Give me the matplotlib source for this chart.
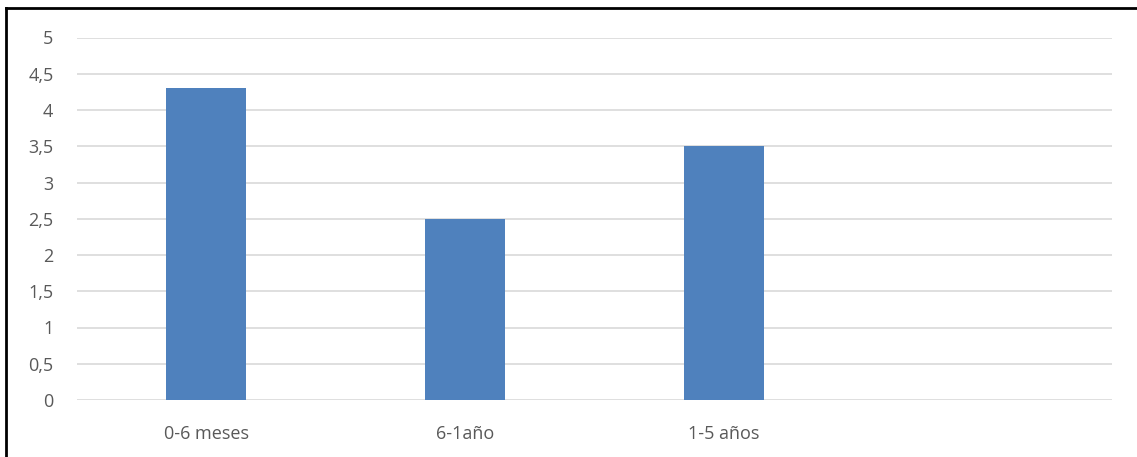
import matplotlib
matplotlib.use("Agg")
import matplotlib.pyplot as plt
from matplotlib.lines import Line2D

categories = ["0-6 meses", "6-1año", "1-5 años", ""]
values = [4.3, 2.5, 3.5, None]
y_ticks = [0, 0.5, 1, 1.5, 2, 2.5, 3, 3.5, 4, 4.5, 5]
y_labels = ["0", "0,5", "1", "1,5", "2", "2,5", "3", "3,5", "4", "4,5", "5"]


def main():
    plt.rcParams['font.family'] = ['Open Sans', 'DejaVu Sans']
    fig = plt.figure(figsize=(11.37, 4.57), dpi=100)
    ax = fig.add_axes([77 / 1137, 1 - 400 / 457, 1035 / 1137, 362.5 / 457])

    x = list(range(len(categories)))
    heights = [v if v is not None else 0 for v in values]
    ax.bar(x, heights, width=0.31, color="#4f81bd", zorder=3)

    ax.set_xlim(-0.5, len(categories) - 0.5)
    ax.set_ylim(0, 5)
    ax.set_yticks(y_ticks)
    ax.set_yticklabels(y_labels)
    ax.set_xticks(x)
    ax.set_xticklabels(categories)
    ax.grid(axis="y", color="#d9d9d9", linewidth=1.2, zorder=0)
    for s in ax.spines.values():
        s.set_visible(False)
    ax.tick_params(axis="both", length=0, colors="#595959", labelsize=13)
    ax.tick_params(axis="y", pad=17)
    ax.tick_params(axis="x", pad=18)

    # outer frame (top and left edges only)
    fig.add_artist(Line2D([6 / 1137, 1], [1 - 8 / 457, 1 - 8 / 457], color="black", lw=2, transform=fig.transFigure))
    fig.add_artist(Line2D([6 / 1137, 6 / 1137], [0, 1 - 8 / 457], color="black", lw=2, transform=fig.transFigure))

    fig.savefig("out.png", dpi=100, facecolor="white")


if __name__ == "__main__":
    main()
